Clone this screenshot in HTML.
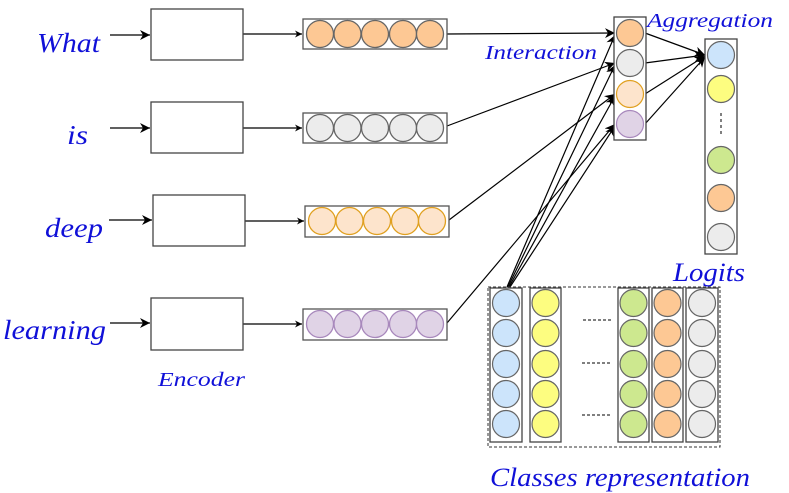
<!DOCTYPE html>
<html><head><meta charset="utf-8"><style>
html,body{margin:0;padding:0;background:#fff;}
svg{display:block;}
text{font-family:"Liberation Serif",serif;font-style:italic;fill:#1010d8;}
</style></head><body>
<svg width="789" height="493" viewBox="0 0 789 493" xmlns="http://www.w3.org/2000/svg">
<defs>
<marker id="a" viewBox="0 0 10 10" refX="10" refY="5" markerWidth="7" markerHeight="7" orient="auto" markerUnits="userSpaceOnUse">
<path d="M0,0 L10,5 L0,10 L3,5 z" fill="#000"/></marker>
<marker id="b" viewBox="0 0 10 10" refX="10" refY="5" markerWidth="10" markerHeight="10" orient="auto" markerUnits="userSpaceOnUse">
<path d="M0,0 L10,5 L0,10 L3,5 z" fill="#000"/></marker>
</defs>
<g stroke="#000" stroke-width="1.2" fill="none">
<line x1="110" y1="35" x2="150" y2="35" marker-end="url(#b)"/>
<line x1="110" y1="128" x2="150" y2="128" marker-end="url(#b)"/>
<line x1="109" y1="220" x2="152" y2="220" marker-end="url(#b)"/>
<line x1="110" y1="323" x2="150" y2="323" marker-end="url(#b)"/>
<line x1="243" y1="34" x2="302" y2="34" marker-end="url(#a)"/>
<line x1="243" y1="128" x2="302" y2="128" marker-end="url(#a)"/>
<line x1="245" y1="221" x2="304" y2="221" marker-end="url(#a)"/>
<line x1="243" y1="324" x2="302" y2="324" marker-end="url(#a)"/>
<line x1="447" y1="34" x2="615" y2="33" marker-end="url(#b)"/>
<line x1="447" y1="126" x2="615" y2="63" marker-end="url(#b)"/>
<line x1="449" y1="220" x2="615" y2="94" marker-end="url(#b)"/>
<line x1="447" y1="323" x2="615" y2="124" marker-end="url(#b)"/>
<line x1="507" y1="287" x2="615" y2="35" marker-end="url(#b)"/>
<line x1="508" y1="287" x2="615" y2="65" marker-end="url(#b)"/>
<line x1="509" y1="287" x2="615" y2="96" marker-end="url(#b)"/>
<line x1="510" y1="287" x2="615" y2="126" marker-end="url(#b)"/>
<line x1="645" y1="33" x2="705" y2="55" marker-end="url(#b)"/>
<line x1="645" y1="63" x2="705" y2="55" marker-end="url(#b)"/>
<line x1="645" y1="94" x2="705" y2="56" marker-end="url(#b)"/>
<line x1="645" y1="124" x2="705" y2="57" marker-end="url(#b)"/>
</g>
<g stroke="#444" stroke-width="1.3" fill="#fff">
<rect x="151" y="9" width="92" height="51"/>
<rect x="151" y="102" width="92" height="51"/>
<rect x="153" y="195" width="92" height="51"/>
<rect x="151" y="298" width="92" height="52"/>
</g>
<g stroke="#555" stroke-width="1.3">
<rect x="303" y="19" width="144" height="30" fill="#fff"/>
<g fill="#fdc894" stroke="#666"><circle cx="320" cy="34" r="13.5"/><circle cx="347.5" cy="34" r="13.5"/><circle cx="375" cy="34" r="13.5"/><circle cx="403" cy="34" r="13.5"/><circle cx="430" cy="34" r="13.5"/></g>
<rect x="303" y="113" width="144" height="30" fill="#fff"/>
<g fill="#ececec" stroke="#666"><circle cx="320" cy="128" r="13.5"/><circle cx="347.5" cy="128" r="13.5"/><circle cx="375" cy="128" r="13.5"/><circle cx="403" cy="128" r="13.5"/><circle cx="430" cy="128" r="13.5"/></g>
<rect x="305" y="206" width="144" height="31" fill="#fff"/>
<g fill="#fde4cc" stroke="#e0a020"><circle cx="322" cy="221" r="13.5"/><circle cx="349.5" cy="221" r="13.5"/><circle cx="377" cy="221" r="13.5"/><circle cx="405" cy="221" r="13.5"/><circle cx="432" cy="221" r="13.5"/></g>
<rect x="303" y="309" width="144" height="31" fill="#fff"/>
<g fill="#e0d3e6" stroke="#a888bc"><circle cx="320" cy="324" r="13.5"/><circle cx="347.5" cy="324" r="13.5"/><circle cx="375" cy="324" r="13.5"/><circle cx="403" cy="324" r="13.5"/><circle cx="430" cy="324" r="13.5"/></g>
</g>
<rect x="614" y="17" width="32" height="123" fill="#fff" stroke="#444" stroke-width="1.3"/>
<circle cx="630" cy="33" r="13.5" fill="#fdc894" stroke="#666" stroke-width="1.2"/>
<circle cx="630" cy="63" r="13.5" fill="#ececec" stroke="#666" stroke-width="1.2"/>
<circle cx="630" cy="94" r="13.5" fill="#fde4cc" stroke="#e0a020" stroke-width="1.2"/>
<circle cx="630" cy="124" r="13.5" fill="#e0d3e6" stroke="#a888bc" stroke-width="1.2"/>
<rect x="705" y="39" width="32" height="215" fill="#fff" stroke="#444" stroke-width="1.3"/>
<g stroke="#666" stroke-width="1.2">
<circle cx="721" cy="55" r="13.5" fill="#cce4fb"/>
<circle cx="721" cy="89" r="13.5" fill="#fdfd80"/>
<circle cx="721" cy="160" r="13.5" fill="#cde88f"/>
<circle cx="721" cy="198" r="13.5" fill="#fdc894"/>
<circle cx="721" cy="237" r="13.5" fill="#ececec"/>
</g>
<line x1="721" y1="113" x2="721" y2="135" stroke="#000" stroke-width="1" stroke-dasharray="3,3"/>
<rect x="488" y="287" width="232" height="160" fill="none" stroke="#333" stroke-width="1" stroke-dasharray="3,2"/>
<g stroke="#444" stroke-width="1.3" fill="#fff">
<rect x="490" y="288" width="32" height="154"/>
<rect x="530" y="288" width="31" height="154"/>
<rect x="618" y="288" width="31" height="154"/>
<rect x="652" y="288" width="31" height="154"/>
<rect x="686" y="288" width="32" height="154"/>
</g>
<g stroke="#666" stroke-width="1.2">
<g fill="#cce4fb"><circle cx="506" cy="303" r="13.5"/><circle cx="506" cy="333" r="13.5"/><circle cx="506" cy="364" r="13.5"/><circle cx="506" cy="394" r="13.5"/><circle cx="506" cy="424" r="13.5"/></g>
<g fill="#fdfd80"><circle cx="545.5" cy="303" r="13.5"/><circle cx="545.5" cy="333" r="13.5"/><circle cx="545.5" cy="364" r="13.5"/><circle cx="545.5" cy="394" r="13.5"/><circle cx="545.5" cy="424" r="13.5"/></g>
<g fill="#cde88f"><circle cx="633.5" cy="303" r="13.5"/><circle cx="633.5" cy="333" r="13.5"/><circle cx="633.5" cy="364" r="13.5"/><circle cx="633.5" cy="394" r="13.5"/><circle cx="633.5" cy="424" r="13.5"/></g>
<g fill="#fdc894"><circle cx="667.5" cy="303" r="13.5"/><circle cx="667.5" cy="333" r="13.5"/><circle cx="667.5" cy="364" r="13.5"/><circle cx="667.5" cy="394" r="13.5"/><circle cx="667.5" cy="424" r="13.5"/></g>
<g fill="#ececec"><circle cx="702" cy="303" r="13.5"/><circle cx="702" cy="333" r="13.5"/><circle cx="702" cy="364" r="13.5"/><circle cx="702" cy="394" r="13.5"/><circle cx="702" cy="424" r="13.5"/></g>
</g>
<g stroke="#000" stroke-width="1" stroke-dasharray="3,2">
<line x1="583" y1="320" x2="611" y2="320"/>
<line x1="582" y1="363" x2="610" y2="363"/>
<line x1="582" y1="415" x2="610" y2="415"/>
</g>
<text x="37" y="52" font-size="27" textLength="63" lengthAdjust="spacingAndGlyphs">What</text>
<text x="67" y="144" font-size="27" textLength="21" lengthAdjust="spacingAndGlyphs">is</text>
<text x="45" y="237" font-size="27" textLength="58" lengthAdjust="spacingAndGlyphs">deep</text>
<text x="3" y="339" font-size="27" textLength="103" lengthAdjust="spacingAndGlyphs">learning</text>
<text x="158" y="386" font-size="20" textLength="87" lengthAdjust="spacingAndGlyphs">Encoder</text>
<text x="485" y="59" font-size="20" textLength="112" lengthAdjust="spacingAndGlyphs">Interaction</text>
<text x="647" y="27" font-size="20" textLength="126" lengthAdjust="spacingAndGlyphs">Aggregation</text>
<text x="673" y="281" font-size="26" textLength="72" lengthAdjust="spacingAndGlyphs">Logits</text>
<text x="490" y="486" font-size="26" textLength="260" lengthAdjust="spacingAndGlyphs">Classes representation</text>
</svg>
</body></html>
